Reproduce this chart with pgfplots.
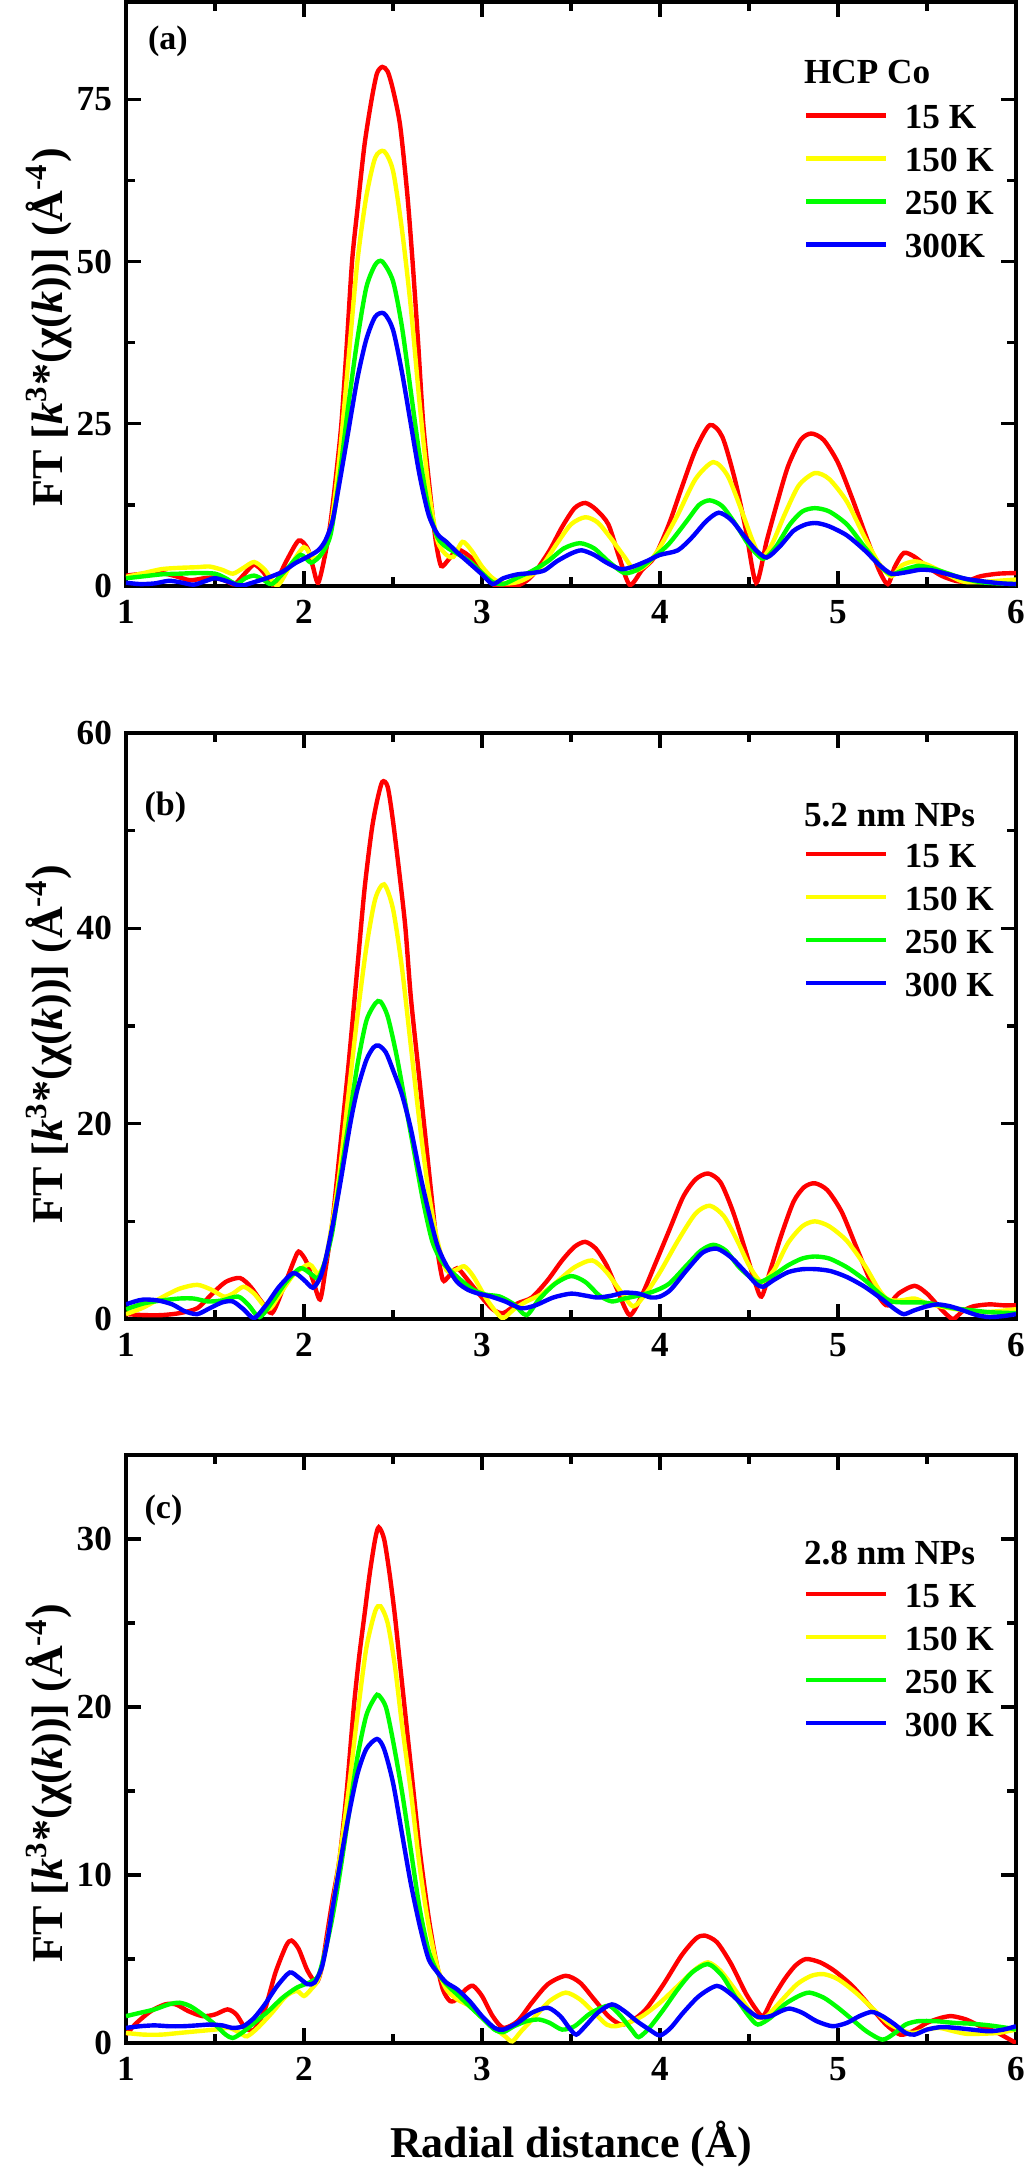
\documentclass[border=0pt]{standalone}
\usepackage{pgfplots}
\pgfplotsset{compat=1.18}
\usepackage{fontspec}
\setmainfont{Liberation Serif}
\definecolor{cR}{RGB}{255,0,0}
\definecolor{cY}{RGB}{255,255,0}
\definecolor{cG}{RGB}{0,255,0}
\definecolor{cB}{RGB}{0,0,255}
\pgfplotsset{
  panel/.style={
    scale only axis, width=222.5pt,
    xmin=1, xmax=6, xtick={1,2,3,4,5,6}, ymin=0,
    minor x tick num=1, minor y tick num=1,
    tick align=inside,
    major tick length=3.75pt, minor tick length=2.2pt,
    axis line style={line width=0.9pt},
    every tick/.style={line width=0.8pt, black},
    /pgf/number format/assume math mode=true,
    ticklabel style={font=\fontsize{8.8}{10}\selectfont\bfseries},
    ylabel={FT [\textit{k}\textsuperscript{3}*(χ(\textit{k}))] (Å\textsuperscript{-4})},
    ylabel style={font=\fontsize{11}{12}\selectfont\bfseries, anchor=base},
    legend cell align=left,
    legend image code/.code={\draw[#1, line width=1.2pt] (0pt,0pt) -- (20pt,0pt);},
    legend style={draw=none, fill=none, font=\fontsize{8.8}{10}\selectfont\bfseries,
      anchor=north west, row sep=4.25pt, inner sep=0pt,
      nodes={inner sep=0pt, text height=6.5pt, text depth=0pt},
      /tikz/every odd column/.append style={column sep=4pt}},
    every axis plot/.append style={line width=1.1pt, smooth, tension=0.45, no markers},
  }
}
\begin{document}
\begin{tikzpicture}
\path[use as bounding box] (-31.5pt,146.5pt) rectangle (224.5pt,-395.25pt);
% ---------------- (a)
\begin{axis}[panel, at={(0pt,0pt)}, anchor=south west, height=146pt,
  ymax=90, ytick={0,25,50,75},
  ylabel style={at={(axis description cs:-0.0719,0.443)}},
  legend style={at={(rel axis cs:0.761,0.829)}}]
\addplot[cR] coordinates {(1.0,1.6)(1.1,1.9)(1.2,2.0)(1.28,1.5)(1.36,0.9)(1.44,1.2)(1.5,1.3)(1.56,0.8)(1.61,0.3)(1.67,2.0)(1.72,3.3)(1.77,2.2)(1.83,0.2)(1.9,3.8)(1.97,7.0)(2.02,5.8)(2.05,3.0)(2.08,0.5)(2.12,5)(2.15,10)(2.18,17)(2.21,25)(2.24,37)(2.27,50)(2.3,58)(2.34,68)(2.38,75)(2.41,79)(2.44,80)(2.47,79.3)(2.5,76.5)(2.54,71)(2.58,60.5)(2.61,50)(2.64,38)(2.67,25)(2.71,14)(2.74,7)(2.77,3.1)(2.81,4)(2.86,5.6)(2.91,5)(2.95,4)(3.02,1.5)(3.08,0)(3.19,0)(3.25,0.8)(3.3,2.2)(3.38,5.5)(3.45,9.1)(3.52,12)(3.58,12.8)(3.64,11.8)(3.71,9.5)(3.77,4.5)(3.83,0.2)(3.9,2.5)(3.97,4.5)(4.05,9.5)(4.12,15)(4.2,21)(4.28,24.8)(4.35,23)(4.42,16.5)(4.48,9)(4.54,0.5)(4.6,7)(4.66,13)(4.72,18.5)(4.79,22.5)(4.85,23.5)(4.92,22.5)(5.0,19)(5.08,13.5)(5.16,7.5)(5.23,2.5)(5.28,0.3)(5.32,3)(5.37,5.1)(5.43,4.5)(5.5,3)(5.58,1.6)(5.66,0.8)(5.72,0.7)(5.8,1.5)(5.9,1.9)(6.0,2.0)};
\addlegendentry{15 K}
\addplot[cY] coordinates {(1.0,1.4)(1.1,2.0)(1.2,2.6)(1.3,2.8)(1.4,2.9)(1.47,3.0)(1.54,2.5)(1.6,1.9)(1.66,2.8)(1.72,3.7)(1.78,2.5)(1.85,0.1)(1.92,3.0)(2.0,6.0)(2.05,4.3)(2.1,5.0)(2.15,9)(2.2,20)(2.25,35)(2.3,50)(2.35,60)(2.4,66)(2.45,67)(2.5,64)(2.55,55)(2.6,43)(2.65,28)(2.7,15)(2.75,7)(2.8,4.8)(2.84,4.5)(2.89,6.8)(2.94,5.5)(3.0,3)(3.06,1.2)(3.12,0.4)(3.2,0.6)(3.27,1.5)(3.34,3.2)(3.42,6.5)(3.5,9.5)(3.58,10.6)(3.65,9.8)(3.72,7.5)(3.8,4.5)(3.86,2.4)(3.93,3.4)(4.0,6)(4.1,11)(4.2,16.5)(4.3,19.1)(4.38,17)(4.46,11.5)(4.52,7)(4.57,4.3)(4.63,6.5)(4.7,11)(4.78,15.5)(4.87,17.4)(4.95,16.5)(5.05,13)(5.15,7.5)(5.23,3.5)(5.3,1.5)(5.36,3.2)(5.43,3.8)(5.5,3.3)(5.6,2)(5.7,0.7)(5.8,0.6)(5.9,0.8)(6.0,1.0)};
\addlegendentry{150 K}
\addplot[cG] coordinates {(1.0,1.2)(1.1,1.5)(1.2,1.8)(1.3,1.9)(1.4,2.0)(1.5,1.9)(1.56,1.2)(1.62,0.3)(1.67,1.2)(1.72,1.6)(1.77,1.0)(1.82,0.3)(1.9,2.5)(1.98,4.8)(2.04,3.6)(2.1,5)(2.15,8)(2.2,17)(2.25,28)(2.3,38)(2.35,46)(2.4,49.5)(2.44,50)(2.5,47)(2.55,40)(2.6,30)(2.65,20)(2.7,12)(2.75,7.5)(2.8,6)(2.86,5)(2.93,3.8)(3.0,2)(3.06,0.6)(3.12,0.3)(3.2,1.3)(3.28,2.3)(3.37,3.8)(3.46,5.8)(3.55,6.6)(3.63,5.8)(3.71,3.8)(3.8,2.0)(3.88,2.6)(3.96,4.3)(4.05,6.5)(4.15,10)(4.22,12.5)(4.28,13.2)(4.35,12.3)(4.43,9.3)(4.5,6.3)(4.58,4.2)(4.65,6)(4.73,9.5)(4.8,11.5)(4.87,12)(4.95,11.5)(5.05,9.5)(5.15,6)(5.24,3)(5.3,1.8)(5.37,2.5)(5.45,3.1)(5.52,2.8)(5.6,2.1)(5.7,1.2)(5.8,0.6)(5.9,0.4)(6.0,0.3)};
\addlegendentry{250 K}
\addplot[cB] coordinates {(1.0,0.5)(1.08,0.3)(1.16,0.4)(1.24,0.8)(1.3,0.6)(1.38,0.2)(1.45,0.8)(1.5,1.2)(1.56,0.8)(1.62,0.2)(1.66,0.1)(1.72,0.6)(1.8,1.3)(1.88,2.2)(1.95,3.5)(2.02,4.5)(2.08,5.5)(2.12,7)(2.16,10)(2.2,16)(2.25,24)(2.3,32)(2.35,38)(2.4,41.5)(2.45,42)(2.5,39.5)(2.55,33)(2.6,25)(2.65,17)(2.7,11)(2.75,8)(2.8,6.8)(2.86,5.2)(2.93,3.5)(3.0,1.8)(3.06,0.3)(3.12,1.2)(3.2,1.8)(3.28,2.0)(3.35,2.4)(3.42,3.8)(3.5,5.0)(3.56,5.5)(3.63,4.8)(3.7,3.6)(3.78,2.6)(3.85,3.0)(3.93,3.9)(4.0,4.8)(4.1,5.5)(4.18,7.5)(4.26,10)(4.33,11.3)(4.4,10.2)(4.47,7.8)(4.54,5.5)(4.6,4.4)(4.67,6.0)(4.75,8.5)(4.82,9.5)(4.88,9.7)(4.95,9.2)(5.05,7.8)(5.15,5.5)(5.23,3.3)(5.3,1.9)(5.38,2.1)(5.46,2.5)(5.53,2.4)(5.62,1.8)(5.72,1.1)(5.82,0.7)(5.92,0.4)(6.0,0.3)};
\addlegendentry{300K}
\node[anchor=west, inner sep=0pt, font=\fontsize{8.5}{10}\selectfont\bfseries] at (rel axis cs:0.024,0.932) {(a)};
\node[anchor=west, inner sep=0pt, font=\fontsize{8.8}{10}\selectfont\bfseries] at (rel axis cs:0.761,0.880) {HCP Co};
\end{axis}
% ---------------- (b)
\begin{axis}[panel, at={(0pt,-183.25pt)}, anchor=south west, height=146.5pt,
  ymax=60, ytick={0,20,40,60},
  ylabel style={at={(axis description cs:-0.0719,0.469)}},
  legend style={at={(rel axis cs:0.761,0.817)}}]
\addplot[cR] coordinates {(1.0,0.5)(1.1,0.4)(1.2,0.4)(1.3,0.6)(1.4,1.1)(1.48,2.5)(1.56,3.8)(1.64,4.2)(1.7,3.3)(1.76,1.8)(1.82,0.6)(1.88,3)(1.94,5.8)(1.97,6.9)(2.01,6)(2.05,4)(2.09,2)(2.12,5)(2.16,10)(2.2,17)(2.25,26)(2.3,36)(2.34,44)(2.38,50)(2.41,53)(2.44,55)(2.47,54.5)(2.5,51)(2.54,45)(2.57,40)(2.6,33)(2.64,26)(2.68,19)(2.72,12)(2.75,7)(2.78,4)(2.81,4.3)(2.86,5.2)(2.92,4)(3.0,2.2)(3.06,1.0)(3.12,0.6)(3.2,1.6)(3.28,2.2)(3.37,4.0)(3.45,6.0)(3.52,7.4)(3.58,7.9)(3.64,7.2)(3.7,5.5)(3.76,3)(3.83,0.4)(3.9,2.5)(3.97,5.5)(4.05,9)(4.13,12.5)(4.2,14.3)(4.27,14.9)(4.34,14)(4.41,11)(4.48,7)(4.53,4)(4.57,2.3)(4.62,5)(4.68,8.5)(4.75,12)(4.81,13.5)(4.87,13.9)(4.94,13.2)(5.02,11)(5.1,7.5)(5.18,4)(5.24,2)(5.28,1.4)(5.34,2.6)(5.43,3.4)(5.5,2.6)(5.57,1.2)(5.62,0.3)(5.65,0)(5.7,0.8)(5.76,1.3)(5.85,1.5)(5.93,1.4)(6.0,1.4)};
\addlegendentry{15 K}
\addplot[cY] coordinates {(1.0,0.5)(1.1,1.2)(1.2,2.2)(1.3,3.1)(1.4,3.5)(1.48,3.0)(1.55,2.3)(1.6,2.6)(1.66,3.3)(1.72,2.6)(1.8,1.0)(1.86,2.4)(1.94,4.5)(2.03,5.6)(2.08,4.6)(2.12,6)(2.16,10)(2.2,15)(2.25,23)(2.3,31)(2.35,38)(2.4,43)(2.45,44.5)(2.5,42)(2.55,36)(2.6,28)(2.65,20)(2.7,13)(2.75,8)(2.8,5)(2.85,5)(2.9,5.4)(2.95,4.4)(3.02,2.2)(3.08,0.7)(3.12,0.1)(3.18,1.0)(3.25,1.8)(3.33,2.5)(3.42,3.8)(3.52,5.3)(3.62,6.0)(3.7,4.8)(3.78,2.8)(3.85,1.3)(3.92,2.6)(4.0,4.8)(4.1,8)(4.2,10.8)(4.28,11.6)(4.36,10.5)(4.44,7.8)(4.5,5.5)(4.57,3.8)(4.64,5)(4.72,7.8)(4.8,9.5)(4.87,10)(4.95,9.5)(5.05,8)(5.15,5.5)(5.23,3)(5.28,2)(5.35,1.9)(5.43,2.1)(5.5,1.6)(5.6,1.2)(5.7,0.9)(5.8,0.7)(5.9,0.8)(6.0,1.0)};
\addlegendentry{150 K}
\addplot[cG] coordinates {(1.0,1.0)(1.1,1.6)(1.2,1.9)(1.3,2.1)(1.38,2.1)(1.46,1.8)(1.54,1.9)(1.63,2.3)(1.69,1.4)(1.75,0.2)(1.82,1.7)(1.9,3.8)(1.98,5.2)(2.04,4.6)(2.08,4.2)(2.12,6)(2.16,9)(2.2,14)(2.25,20)(2.3,26)(2.35,30.5)(2.4,32.3)(2.43,32.5)(2.47,31)(2.52,27)(2.57,22)(2.62,17)(2.67,12)(2.72,8)(2.77,6)(2.82,5)(2.88,4.0)(2.95,3)(3.02,2.5)(3.1,2.3)(3.18,1.5)(3.25,0.4)(3.32,2.0)(3.41,3.6)(3.5,4.4)(3.58,3.8)(3.66,2.4)(3.73,1.8)(3.8,2.1)(3.88,2.4)(3.96,2.8)(4.05,3.6)(4.15,5.5)(4.23,7)(4.3,7.6)(4.37,7)(4.45,5.2)(4.55,3.8)(4.63,4.4)(4.72,5.5)(4.8,6.2)(4.87,6.4)(4.95,6.2)(5.05,5.3)(5.15,4)(5.24,2.5)(5.3,1.8)(5.38,1.7)(5.47,1.7)(5.55,1.5)(5.65,1.1)(5.75,0.9)(5.85,0.7)(6.0,0.6)};
\addlegendentry{250 K}
\addplot[cB] coordinates {(1.0,1.5)(1.05,1.8)(1.1,2.0)(1.18,1.9)(1.26,1.5)(1.33,0.8)(1.4,0.5)(1.47,1.1)(1.54,1.7)(1.6,1.8)(1.66,1.0)(1.72,0.1)(1.79,1.5)(1.86,3.3)(1.94,4.7)(2.0,4.0)(2.05,3.2)(2.09,4.2)(2.12,6)(2.16,9.5)(2.2,13.5)(2.26,20)(2.3,23.5)(2.35,26.5)(2.39,27.8)(2.42,28)(2.46,27.3)(2.5,25.5)(2.55,23)(2.6,19.5)(2.65,15)(2.7,11)(2.75,7.5)(2.8,5.5)(2.86,3.8)(2.92,3)(2.98,2.6)(3.05,2.3)(3.13,1.8)(3.22,1.1)(3.3,1.4)(3.4,2.2)(3.5,2.6)(3.58,2.4)(3.65,2.2)(3.73,2.4)(3.8,2.7)(3.88,2.6)(3.95,2.2)(4.0,2.3)(4.06,3.0)(4.15,5)(4.24,6.8)(4.32,7.2)(4.4,6.3)(4.48,4.8)(4.54,3.6)(4.58,3.3)(4.64,4.0)(4.72,4.8)(4.8,5.1)(4.88,5.1)(4.96,4.9)(5.05,4.3)(5.15,3.3)(5.25,2.0)(5.32,1.0)(5.37,0.5)(5.43,0.9)(5.5,1.3)(5.56,1.5)(5.63,1.3)(5.7,0.9)(5.78,0.4)(5.85,0.2)(5.93,0.3)(6.0,0.5)};
\addlegendentry{300 K}
\node[anchor=west, inner sep=0pt, font=\fontsize{8.5}{10}\selectfont\bfseries] at (rel axis cs:0.02,0.874) {(b)};
\node[anchor=west, inner sep=0pt, font=\fontsize{8.8}{10}\selectfont\bfseries] at (rel axis cs:0.761,0.860) {5.2 nm NPs};
\end{axis}
% ---------------- (c)
\begin{axis}[panel, at={(0pt,-364.25pt)}, anchor=south west, height=147pt,
  ymax=35, ytick={0,10,20,30},
  xlabel={Radial distance (Å)},
  xlabel style={font=\fontsize{11}{12}\selectfont\bfseries, at={(axis description cs:0.5,-0.194)}, anchor=base},
  ylabel style={at={(axis description cs:-0.0719,0.442)}},
  legend style={at={(rel axis cs:0.761,0.787)}}]
\addplot[cR] coordinates {(1.0,0.5)(1.06,1.2)(1.14,1.9)(1.22,2.3)(1.28,2.3)(1.35,1.9)(1.43,1.6)(1.5,1.7)(1.57,2.0)(1.62,1.7)(1.67,0.9)(1.72,0.8)(1.78,2.0)(1.84,4.2)(1.9,5.8)(1.93,6.1)(1.97,5.6)(2.02,4.3)(2.07,3.6)(2.1,4.5)(2.13,6.5)(2.16,8.5)(2.2,11)(2.24,15)(2.28,20)(2.31,23)(2.34,25.5)(2.37,28)(2.4,30)(2.42,30.7)(2.45,30)(2.48,28)(2.51,25.5)(2.54,22.5)(2.58,18.5)(2.61,15.5)(2.65,11.5)(2.7,7.5)(2.74,5)(2.78,3.2)(2.82,2.5)(2.86,2.6)(2.91,3.2)(2.95,3.4)(3.0,2.8)(3.06,1.6)(3.12,0.9)(3.2,1.3)(3.28,2.4)(3.37,3.5)(3.47,4.0)(3.55,3.6)(3.63,2.6)(3.71,1.6)(3.78,1.1)(3.84,1.3)(3.92,2.0)(4.02,3.5)(4.12,5.2)(4.2,6.2)(4.25,6.4)(4.32,6.0)(4.4,4.7)(4.48,3.0)(4.54,2.0)(4.58,1.6)(4.63,2.6)(4.7,3.8)(4.76,4.6)(4.82,5.0)(4.9,4.8)(4.98,4.3)(5.08,3.4)(5.18,2.2)(5.27,1.1)(5.35,0.5)(5.42,0.7)(5.5,1.2)(5.58,1.5)(5.64,1.6)(5.72,1.4)(5.8,1.0)(5.88,0.7)(5.95,0.3)(6.0,0.0)};
\addlegendentry{15 K}
\addplot[cY] coordinates {(1.0,0.6)(1.1,0.5)(1.2,0.5)(1.3,0.6)(1.4,0.7)(1.5,0.8)(1.58,0.9)(1.64,0.6)(1.68,0.4)(1.74,0.9)(1.82,1.8)(1.9,2.8)(1.96,3.1)(2.0,2.8)(2.04,3.2)(2.08,3.8)(2.12,5.5)(2.16,8)(2.2,11)(2.25,15)(2.3,19.5)(2.35,23.5)(2.4,25.7)(2.43,26)(2.47,25)(2.51,22.5)(2.55,19)(2.6,15)(2.65,10.5)(2.7,7)(2.75,4.5)(2.8,3.2)(2.86,2.6)(2.93,2.2)(3.0,1.5)(3.08,0.8)(3.13,0.4)(3.17,0.1)(3.22,0.7)(3.3,1.6)(3.38,2.5)(3.47,3.0)(3.55,2.6)(3.63,1.8)(3.7,1.1)(3.75,1.0)(3.82,1.2)(3.9,1.6)(4.0,2.4)(4.1,3.4)(4.2,4.4)(4.27,4.8)(4.34,4.3)(4.42,3.2)(4.5,2.0)(4.55,1.5)(4.6,1.6)(4.68,2.5)(4.77,3.5)(4.85,4.0)(4.92,4.1)(5.0,3.8)(5.1,3.0)(5.2,2.0)(5.28,1.2)(5.35,0.8)(5.42,0.6)(5.5,0.8)(5.57,0.9)(5.65,0.7)(5.72,0.55)(5.8,0.55)(5.9,0.6)(6.0,0.8)};
\addlegendentry{150 K}
\addplot[cG] coordinates {(1.0,1.6)(1.08,1.8)(1.16,2.0)(1.24,2.3)(1.3,2.4)(1.36,2.2)(1.43,1.7)(1.5,1.1)(1.56,0.5)(1.6,0.3)(1.65,0.6)(1.72,1.2)(1.8,1.9)(1.88,2.7)(1.96,3.3)(2.03,3.6)(2.08,4)(2.12,5.5)(2.16,7.5)(2.2,10)(2.25,13.5)(2.3,17)(2.35,19.5)(2.4,20.6)(2.42,20.7)(2.46,20)(2.5,18)(2.55,15)(2.6,11.5)(2.65,8)(2.7,5.5)(2.75,4.2)(2.8,3.5)(2.87,2.8)(2.94,2.1)(3.01,1.4)(3.07,0.8)(3.12,0.65)(3.18,1.0)(3.25,1.3)(3.32,1.4)(3.38,1.2)(3.45,0.8)(3.52,1.0)(3.6,1.7)(3.67,2.1)(3.72,2.2)(3.78,1.6)(3.84,0.8)(3.88,0.35)(3.94,0.9)(4.02,2.0)(4.1,3.2)(4.18,4.2)(4.27,4.7)(4.35,4.0)(4.42,2.8)(4.5,1.6)(4.55,1.1)(4.62,1.5)(4.7,2.3)(4.78,2.8)(4.84,3.0)(4.92,2.7)(5.0,2.1)(5.08,1.4)(5.16,0.7)(5.25,0.2)(5.32,0.6)(5.38,1.1)(5.45,1.3)(5.55,1.3)(5.65,1.2)(5.75,1.15)(5.85,1.05)(5.95,0.9)(6.0,0.8)};
\addlegendentry{250 K}
\addplot[cB] coordinates {(1.0,0.9)(1.08,1.0)(1.16,1.05)(1.24,1.0)(1.32,1.0)(1.4,1.05)(1.47,1.1)(1.54,1.05)(1.6,0.9)(1.66,1.0)(1.72,1.5)(1.78,2.3)(1.85,3.4)(1.92,4.2)(1.97,3.9)(2.02,3.5)(2.06,3.6)(2.1,4.5)(2.13,6)(2.16,8)(2.2,10.5)(2.25,13.5)(2.3,16)(2.35,17.5)(2.41,18.1)(2.45,17.5)(2.5,15.5)(2.55,12.5)(2.6,9.5)(2.65,7)(2.7,5)(2.75,4.2)(2.8,3.6)(2.86,3.2)(2.93,2.5)(3.0,1.6)(3.07,0.9)(3.12,0.8)(3.2,1.2)(3.28,1.8)(3.37,2.1)(3.44,1.6)(3.49,0.9)(3.53,0.5)(3.58,1.0)(3.65,1.8)(3.73,2.3)(3.8,1.9)(3.87,1.3)(3.94,0.8)(4.0,0.45)(4.06,0.9)(4.13,1.8)(4.22,2.8)(4.32,3.4)(4.4,2.9)(4.48,2.1)(4.55,1.55)(4.62,1.6)(4.68,1.9)(4.73,2.05)(4.8,1.8)(4.88,1.3)(4.97,1.0)(5.05,1.2)(5.12,1.6)(5.19,1.85)(5.25,1.6)(5.32,1.1)(5.38,0.6)(5.43,0.5)(5.5,0.8)(5.58,0.95)(5.66,0.9)(5.75,0.8)(5.85,0.7)(5.93,0.8)(6.0,1.0)};
\addlegendentry{300 K}
\node[anchor=west, inner sep=0pt, font=\fontsize{8.5}{10}\selectfont\bfseries] at (rel axis cs:0.02,0.906) {(c)};
\node[anchor=west, inner sep=0pt, font=\fontsize{8.8}{10}\selectfont\bfseries] at (rel axis cs:0.761,0.833) {2.8 nm NPs};
\end{axis}
\end{tikzpicture}
\end{document}
